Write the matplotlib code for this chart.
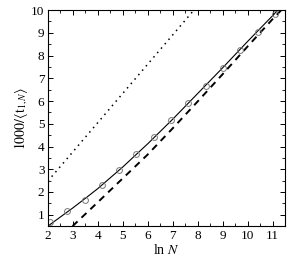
import matplotlib
matplotlib.use("Agg")
import matplotlib.pyplot as plt
from matplotlib.ticker import MultipleLocator

plt.rcParams["font.family"] = ["Liberation Serif", "DejaVu Serif"]
plt.rcParams["mathtext.fontset"] = "stix"

# simulation points (ln N, 1000/<t>)
ln_n = [2.08, 2.77, 3.47, 4.16, 4.85, 5.55, 6.24, 6.93, 7.62, 8.32, 9.01, 9.70, 10.40, 11.09]
inv_t = [0.68, 1.18, 1.66, 2.30, 2.97, 3.66, 4.42, 5.17, 5.90, 6.67, 7.46, 8.26, 9.03, 9.82]

# full theory (solid)
fit_x = [2.0, 2.5, 3.0, 3.5, 4.0, 5.0, 6.0, 7.0, 8.0, 9.0, 10.0, 11.0, 11.3]
fit_y = [0.5, 0.9, 1.3, 1.72, 2.15, 3.1, 4.12, 5.2, 6.33, 7.46, 8.62, 9.75, 10.1]

# asymptote (dashed)
asym_x = [2.99, 4.0, 5.0, 6.0, 7.0, 8.0, 9.0, 10.0, 11.0, 11.35]
asym_y = [0.5, 1.55, 2.6, 3.65, 4.8, 5.98, 7.18, 8.4, 9.6, 10.0]

# dotted line
dot_x = [2.0, 7.85]
dot_y = [2.48, 10.0]

fig = plt.figure(figsize=(2.92, 2.66), dpi=100)
ax = fig.add_axes([0.164, 0.150, 0.812, 0.812])

ax.plot(dot_x, dot_y, color="black", lw=1.1, linestyle=(0, (1, 2.8)))
ax.plot(asym_x, asym_y, color="black", lw=1.4, linestyle=(0, (3.5, 2.8)))
ax.plot(fit_x, fit_y, color="black", lw=0.8)
ax.plot(ln_n, inv_t, "o", ms=4.2, mfc="none", mec="#777777", mew=0.7)

ax.set_xlim(2, 11.5)
ax.set_ylim(0.5, 10)
ax.xaxis.set_major_locator(MultipleLocator(1))
ax.xaxis.set_minor_locator(MultipleLocator(0.5))
ax.yaxis.set_major_locator(MultipleLocator(1))
ax.yaxis.set_minor_locator(MultipleLocator(0.5))
ax.tick_params(which="both", direction="in", top=True, right=True, labelsize=9.5, pad=2.5)
ax.tick_params(which="major", length=3.5, width=0.7)
ax.tick_params(which="minor", length=2, width=0.6)
for s in ax.spines.values():
    s.set_linewidth(0.8)

ax.set_xlabel(r"ln $N$", fontsize=10, labelpad=1)
ax.set_ylabel(r"$1000/\left\langle \mathrm{t}_{1,N} \right\rangle$", fontsize=10, labelpad=1)

fig.savefig("out.png", dpi=100)
